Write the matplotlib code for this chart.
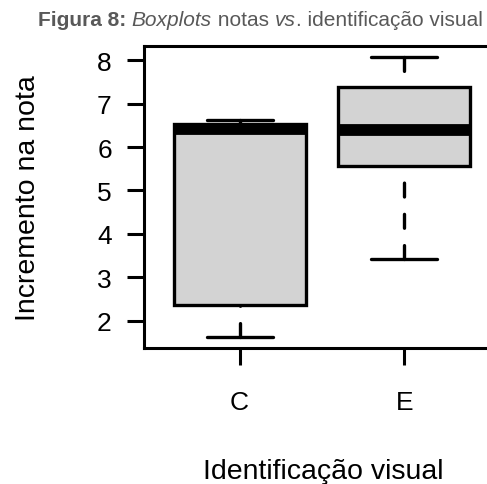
import matplotlib

matplotlib.use("Agg")
import matplotlib.pyplot as plt

plt.rcParams["font.family"] = ["Liberation Sans", "DejaVu Sans"]

# Dados (estatisticas dos boxplots)
grupos = ["C", "E"]
whislo = [1.63, 3.43]
q1 = [2.37, 5.56]
mediana = [6.42, 6.39]
q3 = [6.53, 7.38]
whishi = [6.62, 8.07]
yticks = [2, 3, 4, 5, 6, 7, 8]

stats = []
for i, g in enumerate(grupos):
    stats.append(
        {
            "label": g,
            "whislo": whislo[i],
            "q1": q1[i],
            "med": mediana[i],
            "q3": q3[i],
            "whishi": whishi[i],
        }
    )

W, H = 487, 485
fig = plt.figure(figsize=(W / 100, H / 100), dpi=100)
# o painel continua um pouco alem da borda direita da imagem
ax = fig.add_axes([144 / W, 136 / H, 356 / W, 302 / H])

lw = 2.4
bp = ax.bxp(
    stats,
    positions=[1, 2],
    widths=0.8,
    capwidths=0.4,
    patch_artist=True,
    showfliers=False,
    boxprops=dict(facecolor="#d3d3d3", edgecolor="black", linewidth=lw),
    medianprops=dict(color="black", linewidth=8.5, solid_capstyle="butt"),
    whiskerprops=dict(color="black", linewidth=lw, dash_capstyle="round"),
    capprops=dict(color="black", linewidth=lw, solid_capstyle="round"),
)
# tracejado a partir da extremidade do bigode, como no R
for w in bp["whiskers"]:
    w.set_ydata(w.get_ydata()[::-1])
    w.set_linestyle((0, (10 / lw, 12.5 / lw)))
for b in bp["boxes"]:
    b.set_zorder(3)
for m in bp["medians"]:
    m.set_zorder(4)

ax.set_xlim(0.42, 2.58)
ax.set_ylim(1.37, 8.33)
ax.set_yticks(yticks)
ax.set_yticklabels([str(v) for v in yticks])
ax.set_xticks([1, 2])
ax.set_xticklabels(grupos)

for s in ax.spines.values():
    s.set_linewidth(2.2)
ax.tick_params(axis="both", length=12.2, width=2.2, labelsize=19)
ax.tick_params(axis="y", pad=11)
ax.tick_params(axis="x", pad=18)

ax.set_ylabel("Incremento na nota", fontsize=20.5)
ax.yaxis.set_label_coords(-(144 - 28) / 356, 0.5)
ax.yaxis.label.set_va("center")
ax.set_xlabel("Identificação visual", fontsize=20.5)
ax.xaxis.set_label_coords((323 - 144) / 356, -(479 - 349) / 302)
ax.xaxis.label.set_va("baseline")

# titulo com partes em negrito e italico
partes = [
    ("Figura 8:", "bold", "normal"),
    (" ", "normal", "normal"),
    ("Boxplots", "normal", "italic"),
    (" notas ", "normal", "normal"),
    ("vs", "normal", "italic"),
    (". identificação visual", "normal", "normal"),
]
renderer = fig.canvas.get_renderer()
textos = []
larguras = []
for txt, peso, estilo in partes:
    t = fig.text(0, 1 - 25.7 / H, txt, fontsize=15, color="#595959",
                 fontweight=peso, fontstyle=estilo, va="baseline", ha="left")
    textos.append(t)
    larguras.append(t.get_window_extent(renderer).width)
x = 260 - sum(larguras) / 2
for t, wd in zip(textos, larguras):
    t.set_x(x / W)
    x += wd

plt.savefig("out.png", dpi=100)
plt.close()
